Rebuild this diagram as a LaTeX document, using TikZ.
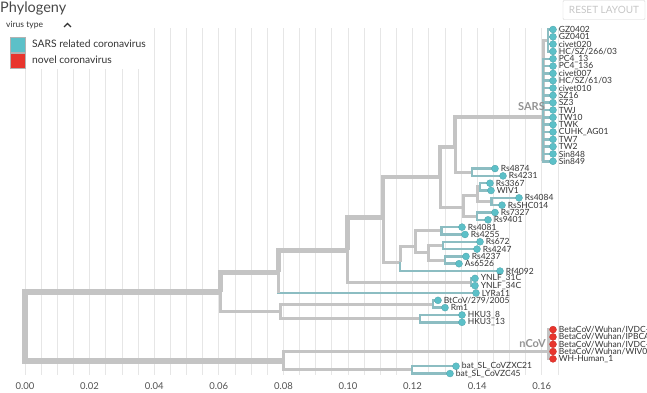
\documentclass[tikz,border=0pt]{standalone}
\usepackage{fontspec}
\setmainfont{Lato}
\definecolor{teal1}{HTML}{5CC0C8}
\definecolor{tealb}{HTML}{8CBDC2}
\definecolor{red1}{HTML}{E8352D}
\definecolor{br}{HTML}{C4C4C4}
\definecolor{gridc}{HTML}{E6E6E6}
\definecolor{txt}{HTML}{333333}
\begin{document}
\begin{tikzpicture}[x=1pt,y=-1pt,
  b6/.style={draw=br,line width=6pt},
  b5/.style={draw=br,line width=5pt},
  b4/.style={draw=br,line width=4pt},
  b3/.style={draw=br,line width=3pt},
  bt/.style={draw=tealb,line width=2.5pt},
  tip/.style={circle,fill=teal1,draw=teal1!85!black,line width=0.3pt,inner sep=0pt,minimum size=7pt},
  rtip/.style={circle,fill=red1,draw=red1!85!black,line width=0.3pt,inner sep=0pt,minimum size=7pt},
  lab/.style={font=\fontsize{8.5}{8}\selectfont,text=txt,anchor=west,inner sep=0pt,xshift=2pt},
  ax/.style={font=\fontsize{9.5}{10}\selectfont,text=txt!85},
  clab/.style={font=\fontsize{11}{11}\selectfont\bfseries,text=gray!85,anchor=east,inner sep=0pt}]
\useasboundingbox (0,0) rectangle (647,393);
% grid
\foreach \i in {0,...,33}{\draw[gridc,line width=0.8pt] ({25+16.15*\i},28) -- ({25+16.15*\i},375);}
\fill[white] (0,14) rectangle (150,69);
% axis labels
\foreach \v/\t in {0/0.00,2/0.02,4/0.04,6/0.06,8/0.08,10/0.10,12/0.12,14/0.14,16/0.16}
  {\node[ax] (ax\v) at ({25+32.3*\v},386) {\t};}
% header and legend
\node[anchor=west,font=\fontsize{14.5}{15}\selectfont,text=txt!90,inner sep=0] (title) at (0,8) {Phylogeny};
\node[anchor=west,font=\fontsize{8.5}{9}\selectfont,text=txt,inner sep=0] (vt) at (6,25) {virus type};
\draw[txt,line width=1.4pt] (64,27) -- (67.5,23.5) -- (71,27);
\node[draw=gray!60,fill=teal1,minimum size=15pt,inner sep=0] (sq1) at (17.5,44.5) {};
\node[draw=gray!60,fill=red1,minimum size=15pt,inner sep=0] (sq2) at (17.5,60.5) {};
\node[anchor=west,inner sep=0,text=txt,font=\fontsize{10.3}{10}\selectfont] (l1) at (32,44) {SARS related coronavirus};
\node[anchor=west,inner sep=0,text=txt,font=\fontsize{10.3}{10}\selectfont] (l2) at (32,60) {novel coronavirus};
\node[draw=gray!35,rounded corners=1pt,minimum width=82pt,minimum height=19pt,font=\fontsize{10}{10}\selectfont,text=gray!45] (reset) at (604,10) {RESET LAYOUT};
% ---------- internal nodes ----------
\coordinate (R) at (25,327);
\coordinate (A) at (220,292);
\coordinate (B) at (278,272);
\coordinate (C) at (347,250);
\coordinate (D) at (383,217);
\coordinate (E) at (440,177);
\coordinate (F) at (455,147);
\coordinate (SA) at (543,116.7);
\coordinate (SB) at (548,40.5);
\coordinate (G) at (472,172.3);
\coordinate (H) at (463,207);
\coordinate (I) at (477,195);
\coordinate (J) at (480,186.9);
\coordinate (K) at (491.7,201.5);
\coordinate (L) at (477,216.2);
\coordinate (M) at (400,262);
\coordinate (N) at (415,246);
\coordinate (O) at (441.7,230.8);
\coordinate (Q) at (428,252.8);
\coordinate (Rr) at (443,245.5);
\coordinate (S) at (445,260.1);
\coordinate (YN) at (471,282);
\coordinate (A2) at (280,311.3);
\coordinate (BT) at (433,304);
\coordinate (HK) at (420,318.7);
\coordinate (Lw) at (283,361);
\coordinate (NC) at (548,351.5);
\coordinate (BS) at (412,369.9);
% ---------- tip positions ----------
\foreach \k in {0,...,18}{\coordinate (c-s\k) at (553,{29.5+7.32*\k});}
\foreach \nm/\x/\k in {rs4874/495/19,rs4231/503/20,rs3367/490/21,wiv1/491/22,rs4084/519/23,rsshc/502/24,rs7327/495/25,rs9401/488/26,rs4081/462/27,rs4255/465/28,rs672/480/29,rs4247/477/30,rs4237/466/31,as6526/459/32,rf4092/500/33,yn31/475/34,yn34/475/35,lyra/476/36,btcov/438/37,rm1/445/38,hku8/462/39,hku13/462/40,zxc/456/46,zc45/450/47}
  {\coordinate (c-\nm) at (\x,{29.5+7.32*\k});}
\foreach \k in {0,...,4}{\coordinate (c-n\k) at (553,{329.6+7.32*\k});}
% ---------- branches ----------
\draw[b6] (R) |- (A);
\draw[b6] (R) |- (Lw);
\draw[b5] (A) |- (B);
\draw[b3] (A) |- (A2);
\draw[b5] (B) |- (C);
\draw[bt] (B) |- (c-lyra);
\draw[b3] (B) -- (B|-c-lyra);
\draw[b5] (C) |- (D);
\draw[b3] (C) |- (YN);
\draw[bt] (YN) |- (c-yn31);
\draw[bt] (YN) |- (c-yn34);
\draw[b4] (D) |- (E);
\draw[b3] (D) |- (M);
\draw[b4] (E) |- (F);
\draw[b3] (E) |- (H);
\draw[b4] (F) |- (SA);
\draw[b3] (F) |- (G);
\draw[bt] (G) |- (c-rs4874);
\draw[bt] (G) |- (c-rs4231);
\draw[b3] (H) |- (I);
\draw[b3] (H) |- (L);
\draw[b3] (I) |- (J);
\draw[b3] (I) |- (K);
\draw[bt] (J) |- (c-rs3367);
\draw[bt] (J) |- (c-wiv1);
\draw[bt] (K) |- (c-rs4084);
\draw[bt] (K) |- (c-rsshc);
\draw[bt] (L) |- (c-rs7327);
\draw[bt] (L) |- (c-rs9401);
\draw[b3] (M) |- (N);
\draw[bt] (M) |- (c-rf4092);
\draw[b3] (N) |- (O);
\draw[b3] (N) |- (Q);
\draw[bt] (O) |- (c-rs4081);
\draw[bt] (O) |- (c-rs4255);
\draw[b3] (Q) |- (Rr);
\draw[b3] (Q) |- (S);
\draw[bt] (Rr) |- (c-rs672);
\draw[bt] (Rr) |- (c-rs4247);
\draw[bt] (S) |- (c-rs4237);
\draw[bt] (S) |- (c-as6526);
\draw[b3] (A2) |- (BT);
\draw[b3] (A2) |- (HK);
\draw[bt] (BT) |- (c-btcov);
\draw[bt] (BT) |- (c-rm1);
\draw[bt] (HK) |- (c-hku8);
\draw[bt] (HK) |- (c-hku13);
\draw[b3] (Lw) |- (NC);
\draw[b3] (Lw) |- (BS);
\draw[bt] (BS) |- (c-zxc);
\draw[bt] (BS) |- (c-zc45);
\draw[b4] (SA) -- (SA|-c-s18);
\draw[b3] (SA) |- (SB);
\foreach \k in {0,...,3}{\draw[bt] (SB) |- (c-s\k);}
\foreach \k in {4,...,18}{\draw[bt] (SA) |- (c-s\k);}
\draw[b3] (NC) -- (NC|-c-n0);
\foreach \k in {0,...,4}{\draw[b3] (NC) |- (c-n\k);}
% ---------- clade labels ----------
\node[clab] (sars) at (545,107) {SARS};
\node[clab] (ncov) at (546,344) {nCoV};
% ---------- tips ----------
\foreach \n [count=\i from 0] in {{GZ0402},{GZ0401},{civet020},{HC/SZ/266/03},{PC4\_13},{PC4\_136},{civet007},{HC/SZ/61/03},{civet010},{SZ16},{SZ3},{TWJ},{TW10},{TWK},{CUHK\_AG01},{TW7},{TW2},{Sin848},{Sin849}}{
  \node[tip] (s\i) at (c-s\i) {};
  \node[lab] (sl\i) at (s\i.east) {\n};
}
\foreach \nm/\t in {rs4874/{Rs4874},rs4231/{Rs4231},rs3367/{Rs3367},wiv1/{WIV1},rs4084/{Rs4084},rsshc/{RsSHC014},rs7327/{Rs7327},rs9401/{Rs9401},rs4081/{Rs4081},rs4255/{Rs4255},rs672/{Rs672},rs4247/{Rs4247},rs4237/{Rs4237},as6526/{As6526},rf4092/{Rf4092},yn31/{YNLF\_31C},yn34/{YNLF\_34C},lyra/{LYRa11},btcov/{BtCoV/279/2005},rm1/{Rm1},hku8/{HKU3\_8},hku13/{HKU3\_13},zxc/{bat\_SL\_CoVZXC21},zc45/{bat\_SL\_CoVZC45}}{
  \node[tip] (\nm) at (c-\nm) {};
  \node[lab] (l-\nm) at (\nm.east) {\t};
}
\foreach \n [count=\i from 0] in {{BetaCoV/Wuhan/IVDC-HB-01/2019},{BetaCoV/Wuhan/IPBCAMS-WH-01/2019},{BetaCoV/Wuhan/IVDC-HB-04/2020},{BetaCoV/Wuhan/WIV04/2019},{WH-Human\_1}}{
  \node[rtip] (n\i) at (c-n\i) {};
  \node[lab] (nl\i) at (n\i.east) {\n};
}
\end{tikzpicture}
\end{document}
